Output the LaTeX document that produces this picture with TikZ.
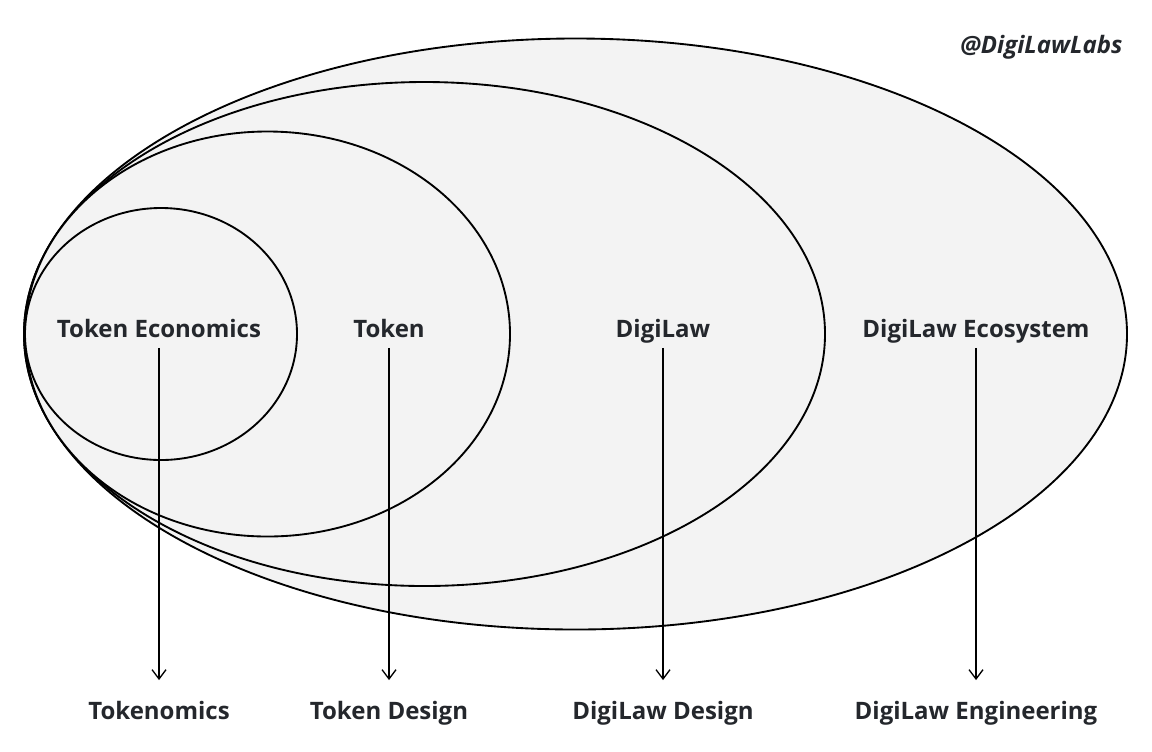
\documentclass[tikz,border=0pt]{standalone}
\usepackage{fontspec}
\setmainfont{Open Sans}
\usetikzlibrary{positioning,arrows.meta,shapes.geometric}
\definecolor{shade}{HTML}{F3F3F3}
\definecolor{ink}{HTML}{24272C}

\begin{document}
\begin{tikzpicture}[x=0.75pt, y=-0.75pt,
  ring/.style={draw, ellipse, line width=1.4pt, fill=shade, inner sep=0pt, outer sep=0pt},
  lbl/.style={font=\bfseries\fontsize{18}{22}\selectfont, text=ink, anchor=base, inner sep=4pt, text height=13pt, text depth=4pt},
  arrow/.style={-{Straight Barb[length=7pt, width=10.5pt]}, line width=1pt, shorten >=12pt}
]
\useasboundingbox (0,0) rectangle (1152,751);

\node[ring, minimum width=827.25pt, minimum height=443.25pt] (ecoring) at (575.5,334) {};
\node[ring, minimum width=600.75pt, minimum height=378pt] (digiring) at (424.5,334) {};
\node[ring, minimum width=363.75pt, minimum height=303.75pt] (tokring) at (267.5,334) {};
\node[ring, minimum width=204pt, minimum height=189pt] (econring) at (161,334) {};

\node[lbl] (teco) at (159,337) {Token Economics};
\node[lbl] (tok) at (389,337) {Token};
\node[lbl] (digi) at (663,337) {DigiLaw};
\node[lbl] (ecos) at (976,337) {DigiLaw Ecosystem};

\node[lbl] (tnom) at (159,719) {Tokenomics};
\node[lbl] (tdes) at (389,719) {Token Design};
\node[lbl] (ddes) at (663,719) {DigiLaw Design};
\node[lbl] (deng) at (976,719) {DigiLaw Engineering};

\node[lbl, font=\bfseries\itshape\fontsize{18}{22}\selectfont, anchor=base east] (handle) at (1128,53) {@DigiLawLabs};

\draw[arrow] (teco) -- (tnom);
\draw[arrow] (tok) -- (tdes);
\draw[arrow] (digi) -- (ddes);
\draw[arrow] (ecos) -- (deng);
\end{tikzpicture}
\end{document}
